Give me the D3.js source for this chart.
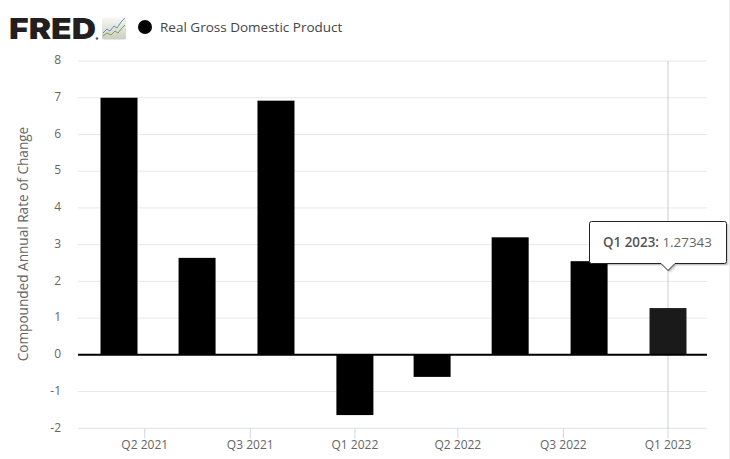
<!DOCTYPE html>
<html>
<head>
<meta charset="utf-8">
<script src="https://cdn.jsdelivr.net/npm/d3@7"></script>
<style>
  html, body { margin: 0; padding: 0; background: #fff; }
  svg { display: block; font-family: "Open Sans", sans-serif; }
</style>
</head>
<body>
<div id="chart"></div>
<script>
// quarterly observations, dates are the start of each quarter
const quarters = ["2021-04-01", "2021-07-01", "2021-10-01", "2022-01-01", "2022-04-01", "2022-07-01", "2022-10-01", "2023-01-01"];
const gdpChange = [7.0, 2.64, 6.92, -1.64, -0.6, 3.2, 2.55, 1.27343];

// the axis ticks sit every four months, labelled by quarter
const tickDates = ["2021-05-01", "2021-09-01", "2022-01-01", "2022-05-01", "2022-09-01", "2023-01-01"];
const tickLabels = ["Q2 2021", "Q3 2021", "Q1 2022", "Q2 2022", "Q3 2022", "Q1 2023"];
const yTicks = [8, 7, 6, 5, 4, 3, 2, 1, 0, -1, -2];

const width = 730, height = 459;
const plotLeft = 78, plotRight = 707;
const barW = 37;
const hoverIndex = 7; // the bar with the tooltip on it

const svg = d3.select("#chart").append("svg")
  .attr("width", width)
  .attr("height", height);

const parse = d3.utcParse("%Y-%m-%d");

const x = d3.scaleUtc()
  .domain(d3.extent(quarters, parse))
  .range([119, 668]);

const y = d3.scaleLinear()
  .domain([-2, 8])
  .range([428.3, 61]);

// faint page edge on the right
svg.append("line")
  .attr("x1", 729.5)
  .attr("x2", 729.5)
  .attr("y1", 0)
  .attr("y2", height)
  .attr("stroke", "#eeeeee");

// gridlines
svg.append("g")
  .selectAll("line")
  .data(yTicks)
  .join("line")
  .attr("x1", plotLeft)
  .attr("x2", plotRight)
  .attr("y1", d => y(d))
  .attr("y2", d => y(d))
  .attr("stroke", d => d === -2 ? "#dcdfec" : "#e8e8e8")
  .attr("stroke-width", 1);

// y labels
svg.append("g")
  .selectAll("text")
  .data(yTicks)
  .join("text")
  .text(d => d)
  .attr("x", 61)
  .attr("y", d => y(d))
  .attr("text-anchor", "end")
  .attr("dominant-baseline", "middle")
  .style("font-size", "12px")
  .attr("fill", "#666");

svg.append("text")
  .text("Compounded Annual Rate of Change")
  .attr("transform", `translate(28, 244) rotate(-90)`)
  .attr("text-anchor", "middle")
  .style("font-size", "13.6px")
  .attr("fill", "#666");

// x ticks and labels
const xTicks = svg.append("g")
  .selectAll("g")
  .data(tickDates)
  .join("g")
  .attr("transform", d => `translate(${x(parse(d))}, 0)`);

xTicks.append("line")
  .attr("y1", y(-2))
  .attr("y2", y(-2) + 10)
  .attr("stroke", "#ccd6eb");

xTicks.append("text")
  .text((d, i) => tickLabels[i])
  .attr("y", 449)
  .attr("text-anchor", "middle")
  .style("font-size", "12px")
  .attr("fill", "#666");

// crosshair goes under the bars
svg.append("line")
  .attr("x1", x(parse(quarters[hoverIndex])))
  .attr("x2", x(parse(quarters[hoverIndex])))
  .attr("y1", y(8))
  .attr("y2", y(-2))
  .attr("stroke", "#cccccc");

// bars
svg.append("g")
  .selectAll("rect")
  .data(gdpChange)
  .join("rect")
  .attr("x", (d, i) => x(parse(quarters[i])) - barW / 2)
  .attr("y", d => Math.min(y(d), y(0)))
  .attr("width", barW)
  .attr("height", d => Math.abs(y(d) - y(0)))
  .attr("fill", (d, i) => i === hoverIndex ? "#1a1a1a" : "#000");

// zero line
svg.append("line")
  .attr("x1", plotLeft)
  .attr("x2", plotRight)
  .attr("y1", y(0))
  .attr("y2", y(0))
  .attr("stroke", "#000")
  .attr("stroke-width", 2);

// legend
svg.append("circle")
  .attr("cx", 145)
  .attr("cy", 27)
  .attr("r", 7)
  .attr("fill", "#000");

svg.append("text")
  .text("Real Gross Domestic Product")
  .attr("x", 160)
  .attr("y", 32)
  .style("font-size", "13.5px")
  .attr("fill", "#444");

// FRED logo
svg.append("text")
  .text("FRED")
  .attr("x", 9)
  .attr("y", 39)
  .attr("textLength", 87)
  .attr("lengthAdjust", "spacingAndGlyphs")
  .style("font-family", "Inter, sans-serif")
  .style("font-size", "29px")
  .style("font-weight", 900)
  .attr("fill", "#231f20");

svg.append("circle")
  .attr("cx", 97)
  .attr("cy", 38.5)
  .attr("r", 1.2)
  .attr("fill", "#555");

const iconGrad = svg.append("defs").append("linearGradient")
  .attr("id", "iconGrad")
  .attr("x1", 0).attr("y1", 0)
  .attr("x2", 0).attr("y2", 1);
iconGrad.append("stop").attr("offset", "0%").attr("stop-color", "#f6f7f3");
iconGrad.append("stop").attr("offset", "100%").attr("stop-color", "#c9cfc0");

svg.append("rect")
  .attr("x", 102)
  .attr("y", 17.5)
  .attr("width", 24)
  .attr("height", 22)
  .attr("rx", 2)
  .attr("fill", "url(#iconGrad)");

const iconLine = d3.line();
svg.append("path")
  .attr("d", iconLine([[103, 33], [107, 29], [110, 31], [114, 26], [117, 28], [121, 22], [125, 18]]))
  .attr("fill", "none")
  .attr("stroke", "#6e8fb0");
svg.append("path")
  .attr("d", iconLine([[103, 36], [107, 33], [111, 35], [115, 31], [118, 33], [122, 28], [125, 25]]))
  .attr("fill", "none")
  .attr("stroke", "#7f9e5a");

// tooltip
const tipX = x(parse(quarters[hoverIndex]));
const tip = svg.append("g");

const tipL = 589.5, tipR = 726.5, tipT = 221.5, tipB = 263.5, tipRound = 2;
const tipPath = d3.path();
tipPath.moveTo(tipL + tipRound, tipT);
tipPath.arcTo(tipR, tipT, tipR, tipB, tipRound);
tipPath.arcTo(tipR, tipB, tipX + 7, tipB, tipRound);
tipPath.lineTo(tipX + 7, tipB);
tipPath.lineTo(tipX, tipB + 7);
tipPath.lineTo(tipX - 7, tipB);
tipPath.arcTo(tipL, tipB, tipL, tipT, tipRound);
tipPath.arcTo(tipL, tipT, tipL + tipRound, tipT, tipRound);
tipPath.closePath();

// stacked copies make a soft shadow
[[3, 2.5, 0.05], [2, 2, 0.08], [1, 1.5, 0.12]].forEach(([dx, dy, op]) => {
  tip.append("path")
    .attr("d", tipPath.toString())
    .attr("transform", `translate(${dx}, ${dy})`)
    .attr("fill", "#000")
    .attr("opacity", op);
});

tip.append("path")
  .attr("d", tipPath.toString())
  .attr("fill", "#fff")
  .attr("stroke", "#222")
  .attr("stroke-width", 1);

const tipText = tip.append("text")
  .attr("x", 603)
  .attr("y", 247)
  .style("font-size", "13.4px")
  .attr("fill", "#555");
tipText.append("tspan").text("Q1 2023:").style("font-weight", 600);
tipText.append("tspan").text(" " + gdpChange[hoverIndex]).attr("fill", "#666");
</script>
</body>
</html>
